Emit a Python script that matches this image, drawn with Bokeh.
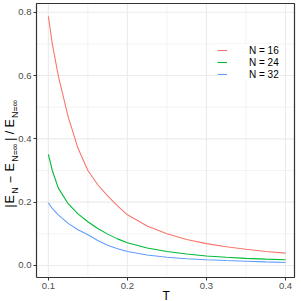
import math
from bokeh.plotting import figure
from bokeh.models import (Range1d, FixedTicker, Legend, LegendItem, LinearAxis,
                          CustomJSTickFormatter, AllLabels)
from bokeh.core.properties import value
from bokeh.embed import file_html
from bokeh.resources import INLINE

T = [0.1, 0.105, 0.1125, 0.125, 0.1375, 0.15, 0.1625, 0.175, 0.1875, 0.2,
     0.225, 0.25, 0.275, 0.3, 0.325, 0.35, 0.375, 0.4]
err_16 = [0.787, 0.70, 0.60, 0.47, 0.37, 0.30, 0.255, 0.22, 0.188, 0.16,
          0.125, 0.100, 0.082, 0.069, 0.059, 0.051, 0.044, 0.039]
err_24 = [0.351, 0.30, 0.245, 0.195, 0.163, 0.138, 0.117, 0.099, 0.084, 0.072,
          0.055, 0.044, 0.036, 0.030, 0.026, 0.0225, 0.020, 0.018]
err_32 = [0.198, 0.18, 0.16, 0.133, 0.113, 0.097, 0.079, 0.064, 0.053, 0.044,
          0.033, 0.026, 0.021, 0.018, 0.0155, 0.0135, 0.0113, 0.0095]
series_labels = ["N = 16", "N = 24", "N = 32"]
colors = ["#F8766D", "#00BA38", "#619CFF"]
x_ticks = [0.1, 0.2, 0.3, 0.4]
x_minor = [0.15, 0.25, 0.35]
y_ticks = [0.0, 0.2, 0.4, 0.6, 0.8]
y_minor = [0.1, 0.3, 0.5, 0.7]
x_title = "T"

FONT = "Liberation Sans"

# panel limits (data units)
X0, X1 = 0.085, 0.4114
Y0, Y1 = -0.038, 0.8275
# panel position in the picture (pixels)
PL, PR, PT, PB = 36.0, 294.0, 3.0, 277.0
CW = CH = 301
sx = (X1 - X0) / (PR - PL)
sy = (Y1 - Y0) / (PB - PT)
def px2x(px):
    return X0 + (px - PL) * sx
def py2y(py):
    return Y0 + (PB - py) * sy

p = figure(width=CW, height=CH, output_backend="svg", toolbar_location=None,
           x_axis_location=None, y_axis_location=None,
           x_range=Range1d(px2x(0), px2x(CW)),
           y_range=Range1d(py2y(CH), py2y(0)),
           min_border=0, min_border_left=0, min_border_right=0,
           min_border_top=0, min_border_bottom=0)
p.background_fill_color = "white"
p.border_fill_color = "white"
p.outline_line_color = None
p.grid.visible = False

# grid lines (bounded to the panel)
p.segment(x0=x_minor, y0=[Y0] * len(x_minor), x1=x_minor, y1=[Y1] * len(x_minor),
          line_color="#EBEBEB", line_width=0.6)
p.segment(x0=[X0] * len(y_minor), y0=y_minor, x1=[X1] * len(y_minor), y1=y_minor,
          line_color="#EBEBEB", line_width=0.6)
p.segment(x0=x_ticks, y0=[Y0] * len(x_ticks), x1=x_ticks, y1=[Y1] * len(x_ticks),
          line_color="#EBEBEB", line_width=1.1)
p.segment(x0=[X0] * len(y_ticks), y0=y_ticks, x1=[X1] * len(y_ticks), y1=y_ticks,
          line_color="#EBEBEB", line_width=1.1)

renderers = []
for ys, c in zip([err_16, err_24, err_32], colors):
    renderers.append(p.line(T, ys, line_color=c, line_width=1.1))

# panel border
p.line(x=[X0, X1, X1, X0, X0], y=[Y0, Y0, Y1, Y1, Y0],
       line_color="#333333", line_width=1.2)

fmt = CustomJSTickFormatter(code="return tick.toFixed(1);")
xa = LinearAxis(fixed_location=Y0, ticker=FixedTicker(ticks=x_ticks), formatter=fmt)
ya = LinearAxis(fixed_location=X0, ticker=FixedTicker(ticks=y_ticks), formatter=fmt)
for ax in (xa, ya):
    ax.axis_line_color = None
    ax.major_tick_line_color = "#333333"
    ax.major_tick_out = 3
    ax.major_tick_in = 0
    ax.minor_tick_line_color = None
    ax.major_label_text_font = FONT
    ax.major_label_text_font_size = "9.5px"
    ax.major_label_text_color = "#4D4D4D"
    ax.major_label_standoff = 2
    ax.major_label_policy = AllLabels()
p.add_layout(xa, "below")
p.add_layout(ya, "left")

legend = Legend(items=[LegendItem(label=l, renderers=[r]) for l, r in zip(series_labels, renderers)],
                location=(217, CH - 80), margin=0, padding=2, spacing=0,
                glyph_width=10, glyph_height=12, label_height=12,
                label_standoff=22, label_text_font=FONT,
                label_text_font_size="10px", label_text_color="#000000",
                border_line_color=None, background_fill_color="white",
                background_fill_alpha=1.0)
p.add_layout(legend)

# x axis title
p.text(x=[px2x(165.7)], y=[py2y(295)], text=[x_title], text_font=value(FONT),
       text_font_size=value("12px"), text_align="center",
       text_baseline="alphabetic", text_color="black")

# y axis title with subscripts, built from pieces
W = {"|": 0.26, "E": 0.667, "N": 0.722, "−": 0.584, "=": 0.584, "∞": 0.713, "/": 0.278}
main, sub = 12.5, 9.0
pieces = [("|", main, 0.0), ("E", main, 0.3), ("N", sub, 0.3), ("−", main, 3.0),
          ("E", main, 3.0), ("N=∞", sub, 0.3), ("|", main, 0.6), ("/", main, 2.5),
          ("E", main, 2.5), ("N=∞", sub, 0.3)]
def wid(t, s):
    return sum(W[ch] for ch in t) * s
total = sum(g + wid(t, s) for t, s, g in pieces)
bottom_py, top_py = 207.0, 97.0
scale = (bottom_py - top_py) / total
pos = bottom_py
mx, my, mt, sxs, sys_, st = [], [], [], [], [], []
for t, s, gap in pieces:
    pos -= gap * scale
    if s == main:
        mx.append(px2x(9.5)); my.append(py2y(pos)); mt.append(t)
    else:
        sxs.append(px2x(14.0)); sys_.append(py2y(pos)); st.append(t)
    pos -= wid(t, s) * scale
p.text(x=mx, y=my, text=mt, angle=math.pi / 2, text_font=value(FONT),
       text_font_size=value(f"{main}px"), text_align="left",
       text_baseline="middle", text_color="black")
p.text(x=sxs, y=sys_, text=st, angle=math.pi / 2, text_font=value(FONT),
       text_font_size=value(f"{sub}px"), text_align="left",
       text_baseline="middle", text_color="black")

open("out.html", "w").write(file_html(p, INLINE))
